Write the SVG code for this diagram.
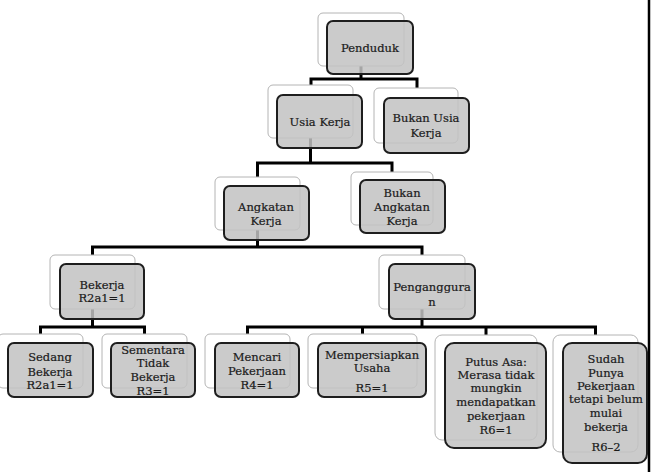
<svg xmlns="http://www.w3.org/2000/svg" width="651" height="472" viewBox="0 0 651 472">
<style>
.bk{fill:#ffffff;stroke:#b4b4b4;stroke-width:1}
.fr{fill:#c2c2c2;fill-opacity:0.85;stroke:#1e1e1e;stroke-width:2}
.t{font-family:"DejaVu Serif","Liberation Serif",serif;font-size:11.5px;fill:#1a1a1a;stroke:#1a1a1a;stroke-width:0.2;text-anchor:middle}
.c{fill:none;stroke:#000;stroke-width:3;stroke-linejoin:miter}
</style>
<defs>
<clipPath id="clipSem"><rect x="112" y="344" width="82" height="52"/></clipPath>
</defs>
<rect x="0" y="0" width="651" height="472" fill="#ffffff"/>
<line x1="649" y1="0" x2="649" y2="472" stroke="#000" stroke-width="2.5"/>
<g id="connectors">
<path class="c" d="M361 66 V79 M311 88 V79 H417 V88"/>
<path class="c" d="M310.5 138 V163 M257.5 177 V163 H392 V172"/>
<path class="c" d="M257.5 230 V247 M92.5 255 V247 H422 V255"/>
<path class="c" d="M92.5 309 V327 M40.5 334 V327 H144.5 V334"/>
<path class="c" d="M422 309 V327 M247.5 334 V327 H595.5 V335 M362.5 327 V334 M486 327 V335"/>
</g>
<g id="penduduk">
<rect class="bk" x="318" y="13" width="86" height="53" rx="5"/>
<rect class="fr" x="327" y="21" width="86" height="53" rx="6"/>
<text class="t" x="370" y="52">Penduduk</text>
</g>
<g id="usia-kerja">
<rect class="bk" x="268" y="85" width="85" height="53" rx="5"/>
<rect class="fr" x="277" y="95" width="85" height="53" rx="6"/>
<text class="t" x="320" y="126">Usia Kerja</text>
</g>
<g id="bukan-usia-kerja">
<rect class="bk" x="374" y="88" width="84" height="55" rx="5"/>
<rect class="fr" x="384" y="98" width="85" height="55" rx="6"/>
<text class="t" x="426" y="122">Bukan Usia</text>
<text class="t" x="426" y="137">Kerja</text>
</g>
<g id="angkatan-kerja">
<rect class="bk" x="215" y="177" width="85" height="53" rx="5"/>
<rect class="fr" x="224" y="186" width="85" height="54" rx="6"/>
<text class="t" x="266" y="211">Angkatan</text>
<text class="t" x="266" y="225">Kerja</text>
</g>
<g id="bukan-angkatan-kerja">
<rect class="bk" x="351" y="172" width="82" height="53" rx="5"/>
<rect class="fr" x="360" y="180" width="85" height="53" rx="6"/>
<text class="t" x="402" y="197">Bukan</text>
<text class="t" x="402" y="211">Angkatan</text>
<text class="t" x="402" y="225">Kerja</text>
</g>
<g id="bekerja">
<rect class="bk" x="50" y="255" width="85" height="54" rx="5"/>
<rect class="fr" x="60" y="264" width="84" height="55" rx="6"/>
<text class="t" x="102" y="289">Bekerja</text>
<text class="t" x="102" y="302">R2a1=1</text>
</g>
<g id="pengangguran">
<rect class="bk" x="379" y="255" width="86" height="54" rx="5"/>
<rect class="fr" x="389" y="264" width="86" height="55" rx="6"/>
<text class="t" x="432" y="291">Penganggura</text>
<text class="t" x="432" y="306">n</text>
</g>
<g id="sedang-bekerja">
<rect class="bk" x="-2" y="334" width="85" height="54" rx="5"/>
<rect class="fr" x="8" y="343" width="85" height="54" rx="6"/>
<text class="t" x="50" y="361">Sedang</text>
<text class="t" x="50" y="376">Bekerja</text>
<text class="t" x="50" y="389">R2a1=1</text>
</g>
<g id="sementara-tidak-bekerja">
<rect class="bk" x="102" y="334" width="85" height="54" rx="5"/>
<rect class="fr" x="111" y="343" width="84" height="54" rx="6"/>
<g clip-path="url(#clipSem)">
<text class="t" x="153" y="354">Sementara</text>
<text class="t" x="153" y="367">Tidak</text>
<text class="t" x="153" y="381">Bekerja</text>
<text class="t" x="153" y="395">R3=1</text>
</g>
</g>
<g id="mencari-pekerjaan">
<rect class="bk" x="205" y="334" width="85" height="54" rx="5"/>
<rect class="fr" x="215" y="343" width="84" height="54" rx="6"/>
<text class="t" x="257" y="361">Mencari</text>
<text class="t" x="257" y="375">Pekerjaan</text>
<text class="t" x="257" y="389">R4=1</text>
</g>
<g id="mempersiapkan-usaha">
<rect class="bk" x="308" y="334" width="109" height="54" rx="5"/>
<rect class="fr" x="318" y="343" width="108" height="54" rx="6"/>
<text class="t" x="372" y="359">Mempersiapkan</text>
<text class="t" x="372" y="372">Usaha</text>
<text class="t" x="372" y="392">R5=1</text>
</g>
<g id="putus-asa">
<rect class="bk" x="435" y="335" width="102" height="105" rx="7"/>
<rect class="fr" x="445" y="343" width="101" height="105" rx="9"/>
<text class="t" x="496" y="366">Putus Asa:</text>
<text class="t" x="496" y="379">Merasa tidak</text>
<text class="t" x="496" y="392">mungkin</text>
<text class="t" x="496" y="406">mendapatkan</text>
<text class="t" x="496" y="420">pekerjaan</text>
<text class="t" x="496" y="434">R6=1</text>
</g>
<g id="sudah-punya-pekerjaan">
<rect class="bk" x="553" y="335" width="85" height="117" rx="7"/>
<rect class="fr" x="563" y="343" width="84" height="120" rx="9"/>
<text class="t" x="606" y="363">Sudah</text>
<text class="t" x="606" y="377">Punya</text>
<text class="t" x="606" y="390">Pekerjaan</text>
<text class="t" x="606" y="403">tetapi belum</text>
<text class="t" x="606" y="417">mulai</text>
<text class="t" x="606" y="431">bekerja</text>
<text class="t" x="606" y="451">R6–2</text>
</g>
</svg>
